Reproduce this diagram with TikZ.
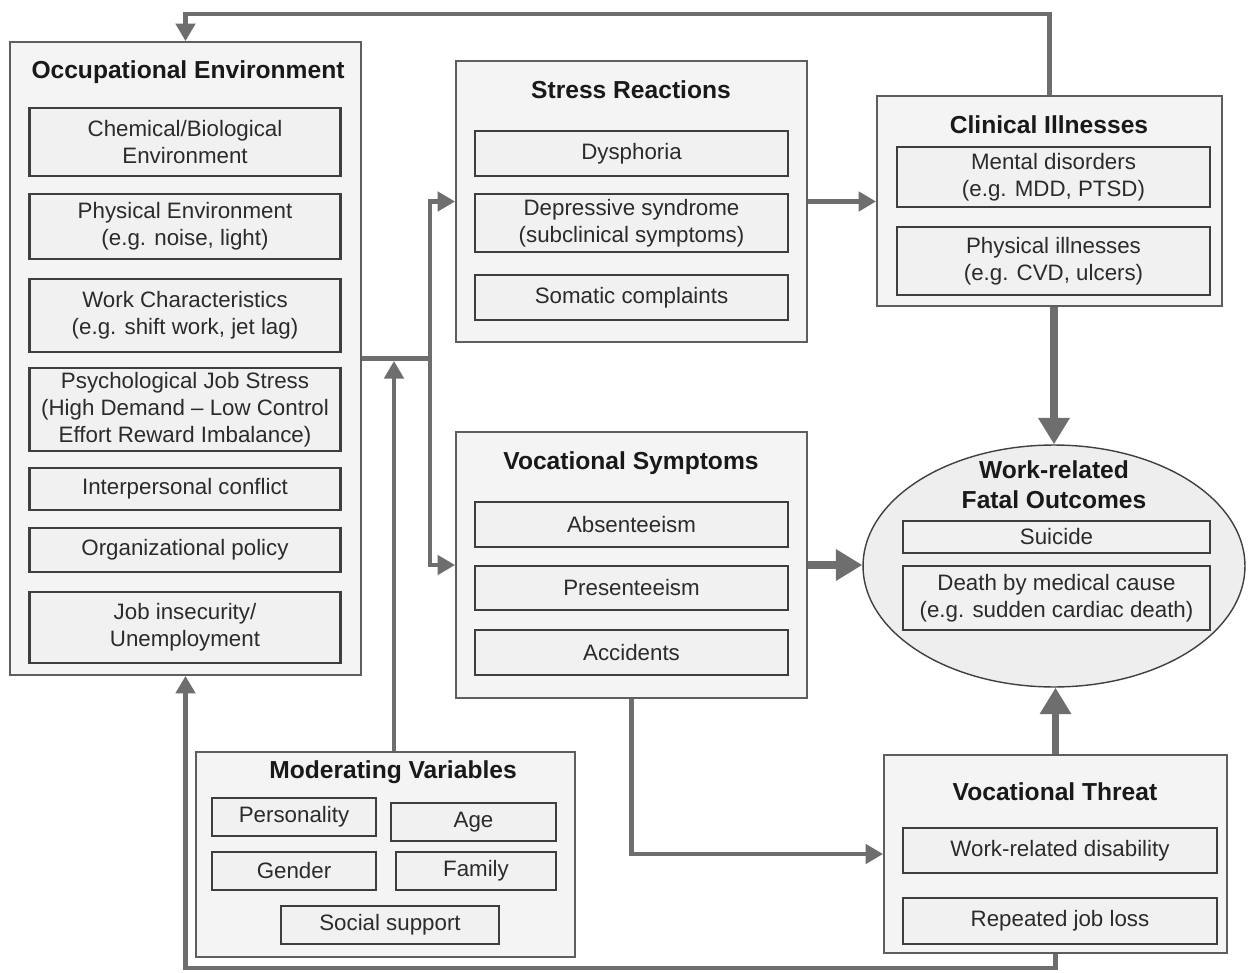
\documentclass[tikz,border=0pt]{standalone}
\usepackage{fontspec}
\setmainfont{Liberation Sans}
\usetikzlibrary{arrows.meta,shapes.geometric}

\definecolor{grpline}{HTML}{5E5E5E}
\definecolor{grpfill}{HTML}{F4F4F4}
\definecolor{ellfill}{HTML}{EEEEEE}
\definecolor{itemline}{HTML}{3E3E3E}
\definecolor{itemfill}{HTML}{F1F1F1}
\definecolor{itemtext}{HTML}{2B2B2B}
\definecolor{arrowgray}{HTML}{6E6E6E}

\newcommand\itemfont{\fontsize{12.7}{15.3}\selectfont}
\newcommand\ttlfont{\fontsize{14}{17}\selectfont\bfseries}

\tikzset{
  group/.style={draw=grpline, fill=grpfill, line width=1.1pt, inner sep=0pt},
  item/.style={draw=itemline, fill=itemfill, line width=1.3pt, inner sep=2pt,
               align=center, text=itemtext, font=\itemfont},
  ttl/.style={font=\ttlfont, text=black!90, align=center},
  wire/.style={draw=arrowgray, line width=2.3pt},
  link/.style={wire, -{Triangle[length=10pt,width=11pt]}},
  biglink/.style={draw=arrowgray, line width=4pt, -{Triangle[length=15pt,width=17pt]}},
}

\begin{document}
\begin{tikzpicture}[x=0.02cm, y=-0.02cm]
    \useasboundingbox (0,0) rectangle (1251,973);

    % Occupational Environment
    \node[group, minimum width=7.02cm, minimum height=12.66cm] (occ) at (185.5,358.5) {};
    \node[ttl] (occT) at (188,72) {Occupational Environment};
    \node[item, minimum width=6.22cm, minimum height=1.36cm] (chem) at (185,142) {Chemical/Biological\\Environment};
    \node[item, minimum width=6.22cm, minimum height=1.30cm] (phys) at (185,226.5) {Physical Environment\\(e.g. noise, light)};
    \node[item, minimum width=6.22cm, minimum height=1.46cm] (work) at (185,315.5) {Work Characteristics\\(e.g. shift work, jet lag)};
    \node[item, minimum width=6.22cm, minimum height=1.66cm] (psych) at (185,409.5) {Psychological Job Stress\\(High Demand – Low Control\\Effort Reward Imbalance)};
    \node[item, minimum width=6.22cm, minimum height=0.84cm] (inter) at (185,489) {Interpersonal conflict};
    \node[item, minimum width=6.22cm, minimum height=0.88cm] (org) at (185,550) {Organizational policy};
    \node[item, minimum width=6.22cm, minimum height=1.42cm] (insec) at (185,627.5) {Job insecurity/\\Unemployment};

    % Stress Reactions
    \node[group, minimum width=7.02cm, minimum height=5.62cm] (stress) at (631.5,201.5) {};
    \node[ttl] (stressT) at (631,90) {Stress Reactions};
    \node[item, minimum width=6.26cm, minimum height=0.90cm] (dys) at (631.5,153.5) {Dysphoria};
    \node[item, minimum width=6.26cm, minimum height=1.16cm] (dep) at (631.5,223) {Depressive syndrome\\(subclinical symptoms)};
    \node[item, minimum width=6.26cm, minimum height=0.90cm] (som) at (631.5,297.5) {Somatic complaints};

    % Clinical Illnesses
    \node[group, minimum width=6.90cm, minimum height=4.20cm] (clin) at (1049.5,201) {};
    \node[ttl] (clinT) at (1049,125) {Clinical Illnesses};
    \node[item, minimum width=6.26cm, minimum height=1.20cm] (ment) at (1053.5,177) {Mental disorders\\(e.g. MDD, PTSD)};
    \node[item, minimum width=6.26cm, minimum height=1.36cm] (physill) at (1053.5,261) {Physical illnesses\\(e.g. CVD, ulcers)};

    % Vocational Symptoms
    \node[group, minimum width=7.02cm, minimum height=5.32cm] (voc) at (631.5,565) {};
    \node[ttl] (vocT) at (631,463) {Vocational Symptoms};
    \node[item, minimum width=6.26cm, minimum height=0.90cm] (absent) at (631.5,524.5) {Absenteeism};
    \node[item, minimum width=6.26cm, minimum height=0.88cm] (present) at (631.5,588) {Presenteeism};
    \node[item, minimum width=6.26cm, minimum height=0.90cm] (accid) at (631.5,652.5) {Accidents};

    % Work-related Fatal Outcomes
    \node[ellipse, draw=black!75, fill=ellfill, line width=0.8pt, inner sep=0pt,
          minimum width=7.64cm, minimum height=4.84cm] (ell) at (1054,566) {};
    \node[ttl] (ellT) at (1054,485) {Work-related\\Fatal Outcomes};
    \node[item, minimum width=6.14cm, minimum height=0.64cm] (suic) at (1056.5,537) {Suicide};
    \node[item, minimum width=6.14cm, minimum height=1.28cm] (death) at (1056.5,598) {Death by medical cause\\(e.g. sudden cardiac death)};

    % Moderating Variables
    \node[group, minimum width=7.58cm, minimum height=4.10cm] (mod) at (385.5,854.5) {};
    \node[ttl] (modT) at (393,772) {Moderating Variables};
    \node[item, minimum width=3.28cm, minimum height=0.76cm] (pers) at (294,817) {Personality};
    \node[item, minimum width=3.30cm, minimum height=0.76cm] (age) at (473.5,822) {Age};
    \node[item, minimum width=3.28cm, minimum height=0.76cm] (gend) at (294,871) {Gender};
    \node[item, minimum width=3.20cm, minimum height=0.76cm] (fam) at (476,871) {Family};
    \node[item, minimum width=4.36cm, minimum height=0.76cm] (soc) at (390,925) {Social support};

    % Vocational Threat
    \node[group, minimum width=6.86cm, minimum height=3.96cm] (threat) at (1055.5,854) {};
    \node[ttl] (threatT) at (1055,792) {Vocational Threat};
    \node[item, minimum width=6.28cm, minimum height=0.90cm] (disab) at (1060,850.5) {Work-related disability};
    \node[item, minimum width=6.28cm, minimum height=0.92cm] (loss) at (1060,921) {Repeated job loss};

    % connectors
    \coordinate (top) at (0,14);
    \coordinate (bot) at (0,968);
    \coordinate (split) at (430,358.5);
    \coordinate (modin) at (394,361);

    \draw[wire] (occ.east) -- (split);
    \draw[link] (split) |- (stress.west);
    \draw[link] (split) |- (voc.west);
    \draw[link] (modin |- mod.north) -- (modin);
    \draw[link] (stress.east) -- (stress.east -| clin.west);
    \draw[link] (voc.south) |- (threat.west);
    \draw[link] (clin.north) -- (clin.north |- top) -| (occ.north);
    \draw[link] (threat.south) -- (threat.south |- bot) -| (occ.south);

    % thick arrows into the ellipse
    \draw[biglink] (ell.north |- clin.south) -- (ell.north);
    \draw[biglink] (voc.east) -- (voc.east -| ell.west);
    \draw[biglink] (threat.north) -- (threat.north |- ell.south);
\end{tikzpicture}
\end{document}
